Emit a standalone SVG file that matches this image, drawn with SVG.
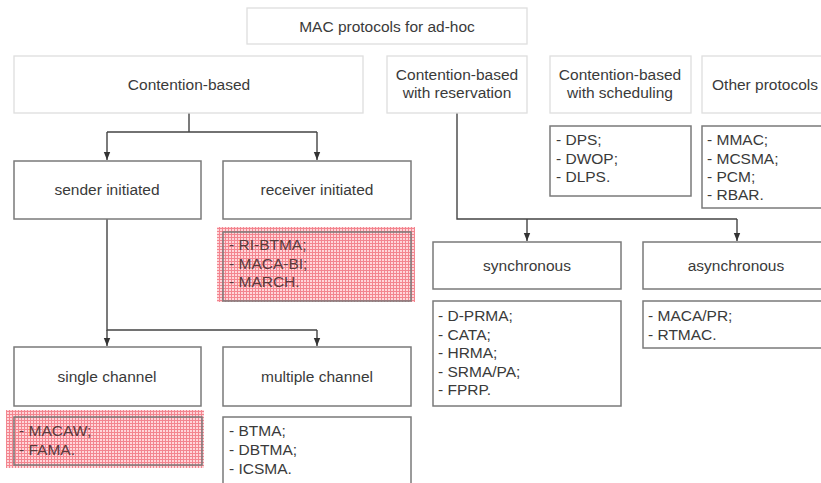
<svg xmlns="http://www.w3.org/2000/svg" width="821" height="483" viewBox="0 0 821 483">
<defs>
<style>
text{font-family:"Liberation Sans",Arial,sans-serif;font-size:15.5px;fill:#3a3a3a}
.c{text-anchor:middle}
.top{fill:#fff;stroke:#dedede;stroke-width:1.3}
.box{fill:#fff;stroke:#7a7a7a;stroke-width:1.5}
.lst{fill:none;stroke:#7a7a7a;stroke-width:1.5}
.hl{fill:url(#grid)}
.hlt text{fill:#5a3a3c}
.con{fill:none;stroke:#444;stroke-width:1.4}
</style>
<pattern id="grid" width="3" height="3" patternUnits="userSpaceOnUse">
<rect width="3" height="3" fill="#ffd6da"/>
<path d="M0 0.5H3M0.5 0V3" stroke="#f3858f" stroke-width="1"/>
</pattern>
<marker id="ah" markerWidth="8" markerHeight="10" refX="10" refY="4" orient="auto" markerUnits="userSpaceOnUse" viewBox="0 0 10 8">
<path d="M0 0L10 4L0 8Z" fill="#333"/>
</marker>
</defs>
<rect width="821" height="483" fill="#fff"/>

<g id="connectors">
<path class="con" d="M189 113V132M107 132H317"/>
<path class="con" d="M107 132V160" marker-end="url(#ah)"/>
<path class="con" d="M317 132V160" marker-end="url(#ah)"/>
<path class="con" d="M107 219V330H317"/>
<path class="con" d="M107 330V346" marker-end="url(#ah)"/>
<path class="con" d="M317 330V346" marker-end="url(#ah)"/>
<path class="con" d="M457 113V219H737"/>
<path class="con" d="M527 219V241" marker-end="url(#ah)"/>
<path class="con" d="M737 219V241" marker-end="url(#ah)"/>
</g>

<g id="n-root">
<rect class="top" x="247" y="8" width="280" height="36"/>
<text class="c" x="387" y="32">MAC protocols for ad-hoc</text>
</g>
<g id="n-contention">
<rect class="top" x="14" y="56" width="349" height="57"/>
<text class="c" x="189" y="90">Contention-based</text>
</g>
<g id="n-reservation">
<rect class="top" x="387" y="56" width="140" height="57"/>
<text class="c" x="457" y="80">Contention-based</text>
<text class="c" x="457" y="98">with reservation</text>
</g>
<g id="n-scheduling">
<rect class="top" x="550" y="56" width="141" height="57"/>
<text class="c" x="620" y="80">Contention-based</text>
<text class="c" x="620" y="98">with scheduling</text>
</g>
<g id="n-other">
<rect class="top" x="702" y="56" width="126" height="57"/>
<text class="c" x="765" y="90">Other protocols</text>
</g>

<g id="n-sched-list">
<rect class="lst" x="550" y="126" width="141" height="70"/>
<text x="556" y="145">- DPS;</text>
<text x="556" y="164">- DWOP;</text>
<text x="556" y="182">- DLPS.</text>
</g>
<g id="n-other-list">
<rect class="lst" x="702" y="126" width="126" height="82"/>
<text x="707" y="145">- MMAC;</text>
<text x="707" y="164">- MCSMA;</text>
<text x="707" y="182">- PCM;</text>
<text x="707" y="200">- RBAR.</text>
</g>

<g id="n-sender">
<rect class="box" x="14" y="161" width="187" height="58"/>
<text class="c" x="107" y="195">sender initiated</text>
</g>
<g id="n-receiver">
<rect class="box" x="223" y="161" width="188" height="58"/>
<text class="c" x="317" y="195">receiver initiated</text>
</g>
<g id="n-receiver-list" class="hlt">
<rect class="hl" x="217" y="227" width="198" height="75"/>
<rect class="lst" x="223" y="232" width="188" height="69"/>
<text x="229" y="250">- RI-BTMA;</text>
<text x="229" y="269">- MACA-BI;</text>
<text x="229" y="287">- MARCH.</text>
</g>

<g id="n-single">
<rect class="box" x="14" y="347" width="187" height="59"/>
<text class="c" x="107" y="382">single channel</text>
</g>
<g id="n-multiple">
<rect class="box" x="223" y="347" width="188" height="59"/>
<text class="c" x="317" y="382">multiple channel</text>
</g>
<g id="n-single-list" class="hlt">
<rect class="hl" x="6" y="410" width="198" height="58"/>
<rect class="lst" x="14" y="417" width="188" height="48"/>
<text x="19" y="436">- MACAW;</text>
<text x="19" y="455">- FAMA.</text>
</g>
<g id="n-multiple-list">
<rect class="lst" x="223" y="417" width="188" height="80"/>
<text x="229" y="436">- BTMA;</text>
<text x="229" y="455">- DBTMA;</text>
<text x="229" y="474">- ICSMA.</text>
</g>

<g id="n-sync">
<rect class="box" x="433" y="242" width="188" height="47"/>
<text class="c" x="527" y="271">synchronous</text>
</g>
<g id="n-async">
<rect class="box" x="643" y="242" width="186" height="47"/>
<text class="c" x="736" y="271">asynchronous</text>
</g>
<g id="n-sync-list">
<rect class="lst" x="433" y="301" width="188" height="105"/>
<text x="438" y="321">- D-PRMA;</text>
<text x="438" y="340">- CATA;</text>
<text x="438" y="358">- HRMA;</text>
<text x="438" y="377">- SRMA/PA;</text>
<text x="438" y="395">- FPRP.</text>
</g>
<g id="n-async-list">
<rect class="lst" x="643" y="301" width="186" height="47"/>
<text x="648" y="321">- MACA/PR;</text>
<text x="648" y="340">- RTMAC.</text>
</g>
</svg>
